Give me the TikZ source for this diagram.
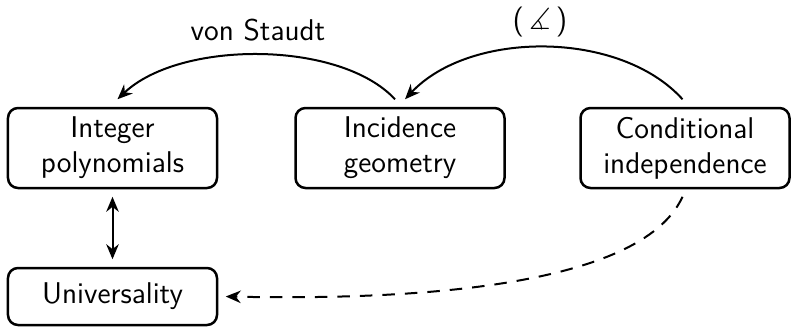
\documentclass[tikz,border=0pt]{standalone}
\usepackage{amssymb}
\usetikzlibrary{arrows.meta}
\begin{document}
\begin{tikzpicture}[x=0.4pt,y=-0.4pt,
  every node/.style={font=\sffamily\large},
  box/.style={draw,line width=1pt,rounded corners=4pt,align=center,
    minimum width=83.6pt,minimum height=32pt,inner sep=2pt},
  link/.style={line width=0.8pt,-{Stealth[length=6pt,width=5pt]}},
  lbl/.style={font=\sffamily\large}]
  \useasboundingbox (0,0) rectangle (793,329);
  % the four boxes
  \node[box] (int) at (112.5,148) {Integer\\polynomials};
  \node[box] (inc) at (400,148) {Incidence\\geometry};
  \node[box] (cond) at (685,148) {Conditional\\independence};
  \node[box,minimum height=22.8pt] (uni) at (112.5,296.5) {Universality};
  % curved arrows along the top
  \draw[link] ([xshift=-2pt,yshift=3pt]inc.north) .. controls (340,40) and (180,40) .. ([xshift=2pt,yshift=3pt]int.north);
  \draw[link] ([xshift=-1pt,yshift=3pt]cond.north) .. controls (620,30) and (470,30) .. ([xshift=2pt,yshift=3pt]inc.north);
  \node[lbl] (vs) at (258,30) {von Staudt};
  \node[lbl] (ang) at (540,22) {(\,$\measuredangle$\,)};
  % two-headed arrow between the left boxes
  \draw[line width=0.8pt,{Stealth[length=6pt,width=5pt]}-{Stealth[length=6pt,width=5pt]},shorten <=3pt,shorten >=3pt] (int.south) -- (uni.north);
  % dashed arrow back to Universality
  \draw[link,dashed,dash pattern=on 5pt off 4pt] ([xshift=-1pt,yshift=-3pt]cond.south) .. controls (640,290) and (400,300) .. ([xshift=3pt]uni.east);
\end{tikzpicture}
\end{document}
